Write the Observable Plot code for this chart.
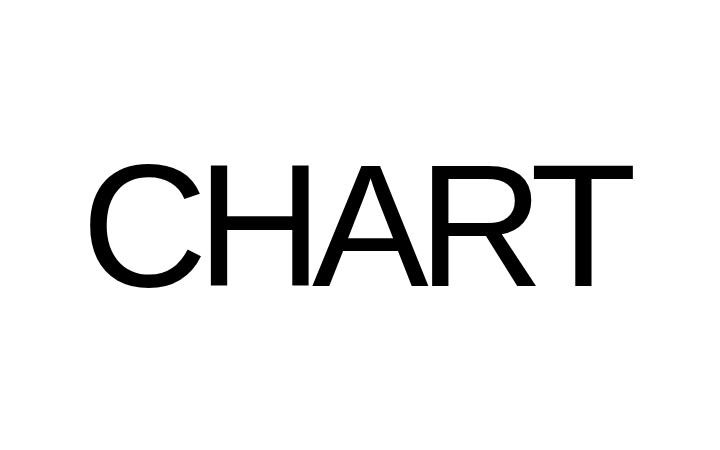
<!DOCTYPE html>
<html>
<head>
<meta charset="utf-8">
<script src="https://cdn.jsdelivr.net/npm/d3@7"></script>
<script src="https://cdn.jsdelivr.net/npm/@observablehq/plot@0.6"></script>
<style>
  html, body { margin: 0; padding: 0; background: #fff; }
  svg { display: block; }
</style>
</head>
<body>
<div id="chart"></div>
<script>
const labels = ["CHART"];
const xPos = [0.5];
const yPos = [0.5];

const data = labels.map((t, i) => ({ label: t, x: xPos[i], y: yPos[i] }));

const chart = Plot.plot({
  width: 720,
  height: 450,
  margin: 0,
  x: { domain: [0, 1], axis: null },
  y: { domain: [0, 1], axis: null },
  style: { background: "#fff" },
  marks: [
    Plot.text(data, {
      x: "x",
      y: "y",
      text: "label",
      fontSize: 175,
      fontFamily: "Liberation Sans, Arial, Helvetica, sans-serif",
      fill: "#000",
      textAnchor: "middle",
      lineAnchor: "middle",
      dx: -7,
      dy: 4
    })
  ]
});
chart.querySelectorAll("text").forEach(t => t.setAttribute("letter-spacing", "-11"));
document.getElementById("chart").appendChild(chart);
</script>
</body>
</html>
